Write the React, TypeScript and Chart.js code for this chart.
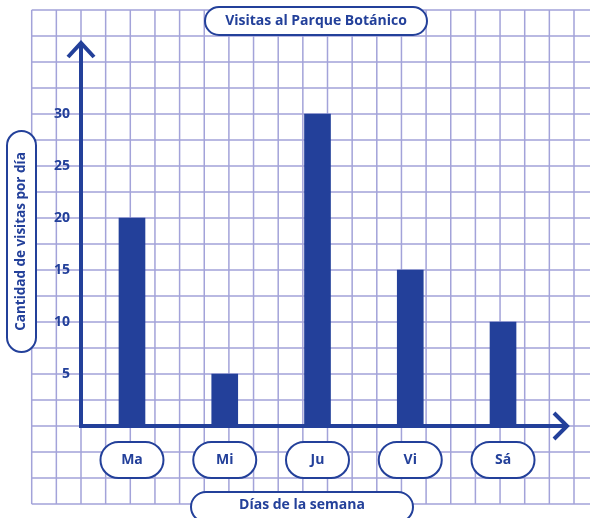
import React, { useEffect, useRef } from "react";
import { Chart, registerables } from "chart.js";

Chart.register(...registerables);

const days = ["Ma", "Mi", "Ju", "Vi", "Sá"];
const visits = [20, 5, 30, 15, 10];
const yTickValues = [5, 10, 15, 20, 25, 30];
const chartTitle = "Visitas al Parque Botánico";
const xTitle = "Días de la semana";
const yTitle = "Cantidad de visitas por día";

const BLUE = "#23409a";
const GRID = "#a3a3d9";
const FONT = "'Open Sans', 'Noto Sans', sans-serif";

function pill(ctx: CanvasRenderingContext2D, x: number, y: number, w: number, h: number) {
  const r = Math.min(w, h) / 2;
  ctx.beginPath();
  ctx.moveTo(x + r, y);
  ctx.lineTo(x + w - r, y);
  ctx.arc(x + w - r, y + r, r, -Math.PI / 2, 0);
  ctx.lineTo(x + w, y + h - r);
  ctx.arc(x + w - r, y + h - r, r, 0, Math.PI / 2);
  ctx.lineTo(x + r, y + h);
  ctx.arc(x + r, y + h - r, r, Math.PI / 2, Math.PI);
  ctx.lineTo(x, y + r);
  ctx.arc(x + r, y + r, r, Math.PI, Math.PI * 1.5);
  ctx.closePath();
  ctx.fillStyle = "#ffffff";
  ctx.fill();
  ctx.lineWidth = 2;
  ctx.strokeStyle = BLUE;
  ctx.stroke();
}

const decorPlugin = {
  id: "decor",
  beforeDraw(chart: any) {
    const ctx = chart.ctx as CanvasRenderingContext2D;
    const y = chart.scales.y;
    ctx.save();
    ctx.fillStyle = "#ffffff";
    ctx.fillRect(0, 0, chart.width, chart.height);
    const gx0 = 31.7;
    const gdx = 24.65;
    const top = y.getPixelForValue(40);
    const bottom = y.getPixelForValue(-7.5);
    ctx.strokeStyle = GRID;
    ctx.lineWidth = 1.5;
    ctx.beginPath();
    for (let k = 0; gx0 + k * gdx <= chart.width + 1; k++) {
      const x = gx0 + k * gdx;
      ctx.moveTo(x, top);
      ctx.lineTo(x, bottom);
    }
    for (let v = -7.5; v <= 40.01; v += 2.5) {
      const py = y.getPixelForValue(v);
      ctx.moveTo(gx0, py);
      ctx.lineTo(chart.width, py);
    }
    ctx.stroke();
    ctx.restore();
  },
  afterDraw(chart: any) {
    const ctx = chart.ctx as CanvasRenderingContext2D;
    const xs = chart.scales.x;
    const ys = chart.scales.y;
    const y0 = ys.getPixelForValue(0);
    ctx.save();
    // axes
    ctx.strokeStyle = BLUE;
    ctx.lineWidth = 4;
    ctx.lineCap = "butt";
    ctx.lineJoin = "miter";
    ctx.beginPath();
    ctx.moveTo(81, 43);
    ctx.lineTo(81, y0 + 2);
    ctx.moveTo(79, y0);
    ctx.lineTo(568, y0);
    ctx.stroke();
    ctx.beginPath();
    ctx.moveTo(68, 57);
    ctx.lineTo(81, 43);
    ctx.lineTo(94, 57);
    ctx.stroke();
    ctx.beginPath();
    ctx.moveTo(554, y0 - 13);
    ctx.lineTo(567, y0);
    ctx.lineTo(554, y0 + 13);
    ctx.stroke();

    ctx.textAlign = "center";
    ctx.textBaseline = "middle";
    ctx.font = `bold 14px ${FONT}`;
    // category pills
    days.forEach((d, i) => {
      const cx = xs.getPixelForValue(i);
      pill(ctx, cx - 31.5, 442, 63, 36);
      ctx.fillStyle = BLUE;
      ctx.fillText(d, cx, 460);
    });
    // title pill
    pill(ctx, 205, 7, 222, 28);
    ctx.fillStyle = BLUE;
    ctx.fillText(chartTitle, 316, 21);
    // x title pill
    pill(ctx, 191, 492, 222, 30);
    ctx.fillStyle = BLUE;
    ctx.fillText(xTitle, 302, 505.5);
    // y title pill
    pill(ctx, 7, 131, 29, 221);
    ctx.save();
    ctx.translate(21.5, 241.5);
    ctx.rotate(-Math.PI / 2);
    ctx.font = `bold 13.5px ${FONT}`;
    ctx.fillStyle = BLUE;
    ctx.fillText(yTitle, 0, 0);
    ctx.restore();
    ctx.restore();
  },
};

export default function App() {
  const ref = useRef<HTMLCanvasElement | null>(null);
  useEffect(() => {
    if (!ref.current) return;
    const chart = new Chart(ref.current, {
      type: "bar",
      data: {
        labels: days,
        datasets: [
          {
            data: visits,
            backgroundColor: BLUE,
            borderWidth: 0,
            barThickness: 26,
          },
        ],
      },
      options: {
        responsive: false,
        animation: false,
        devicePixelRatio: 1,
        layout: { padding: { left: 0, right: 40.6, top: 62, bottom: 92 } },
        plugins: {
          legend: { display: false },
          tooltip: { enabled: false },
          title: { display: false },
        },
        scales: {
          x: { display: false },
          y: {
            min: 0,
            max: 35,
            grid: { display: false, drawTicks: false },
            border: { display: false },
            afterFit: (s: any) => {
              s.width = 85.6;
            },
            ticks: {
              stepSize: 5,
              padding: 15.6,
              color: BLUE,
              font: { family: FONT, weight: "bold", size: 14 },
              callback: (v: any) => (yTickValues.includes(Number(v)) ? String(v) : ""),
            },
          },
        },
      },
      plugins: [decorPlugin],
    });
    return () => chart.destroy();
  }, []);
  return (
    <div style={{ position: "absolute", left: 0, top: 0, width: 590, height: 518 }}>
      <canvas ref={ref} width={590} height={518} style={{ width: 590, height: 518, display: "block" }} />
    </div>
  );
}
